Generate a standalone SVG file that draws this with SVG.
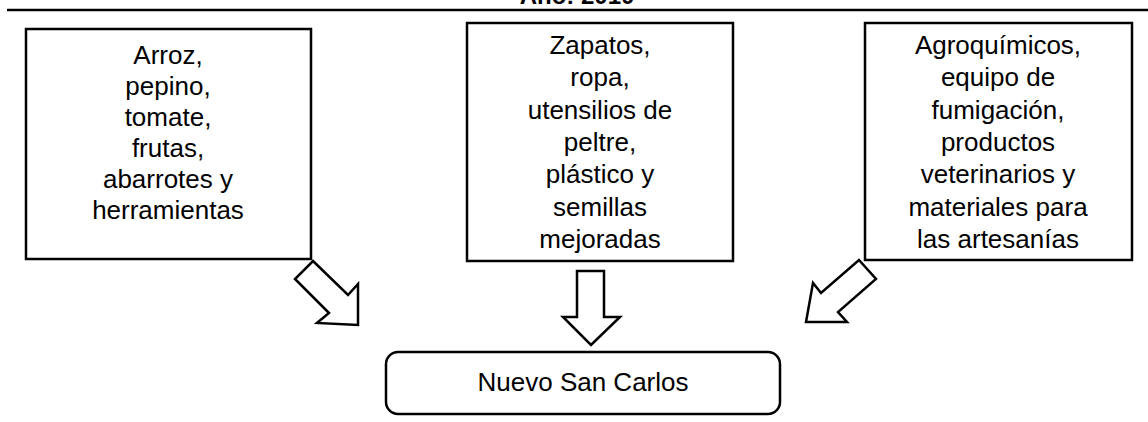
<svg xmlns="http://www.w3.org/2000/svg" width="1148" height="422" viewBox="0 0 1148 422">
<style>
.box{fill:#fff;stroke:#000;stroke-width:2.5}
.arr{fill:#fff;stroke:#000;stroke-width:2.5;stroke-linejoin:miter}
.t{font-family:"Liberation Sans",Arial,sans-serif;font-size:26px;fill:#000;text-anchor:middle}
.title{font-family:"Liberation Sans",Arial,sans-serif;font-size:24px;font-weight:bold;fill:#000;text-anchor:middle}
</style>
<rect width="1148" height="422" fill="#fff"/>
<text class="title" x="577" y="4">Año: 2010</text>
<line x1="7" y1="10" x2="1148" y2="10" stroke="#000" stroke-width="2.5"/>
<g id="node-left">
<rect class="box" x="26" y="29" width="285" height="230"/>
<text class="t"><tspan x="168" y="64">Arroz,</tspan><tspan x="168" y="95">pepino,</tspan><tspan x="168" y="126">tomate,</tspan><tspan x="168" y="157">frutas,</tspan><tspan x="168" y="188">abarrotes y</tspan><tspan x="168" y="219">herramientas</tspan></text>
</g>
<g id="node-middle">
<rect class="box" x="467" y="23" width="266" height="238"/>
<text class="t"><tspan x="600" y="54">Zapatos,</tspan><tspan x="600" y="86">ropa,</tspan><tspan x="600" y="119">utensilios de</tspan><tspan x="600" y="151">peltre,</tspan><tspan x="600" y="183">plástico y</tspan><tspan x="600" y="216">semillas</tspan><tspan x="600" y="248">mejoradas</tspan></text>
</g>
<g id="node-right">
<rect class="box" x="865" y="23" width="267" height="237"/>
<text class="t"><tspan x="998" y="54">Agroquímicos,</tspan><tspan x="998" y="86">equipo de</tspan><tspan x="998" y="119">fumigación,</tspan><tspan x="998" y="151">productos</tspan><tspan x="998" y="183">veterinarios y</tspan><tspan x="998" y="216">materiales para</tspan><tspan x="998" y="248">las artesanías</tspan></text>
</g>
<g id="node-target">
<rect class="box" x="386" y="352" width="394" height="62" rx="12" ry="12"/>
<text class="t" x="583" y="391">Nuevo San Carlos</text>
</g>
<g id="connectors">
<polygon class="arr" points="313,261 348,295 358,284 358,325 317,323 329,313 295,279"/>
<polygon class="arr" points="577,271 604,271 604,317 620,317 591,345 563,317 577,317"/>
<polygon class="arr" points="859,260 876,279 838,312 847,322 806,322 813,283 821,293"/>
</g>
</svg>
